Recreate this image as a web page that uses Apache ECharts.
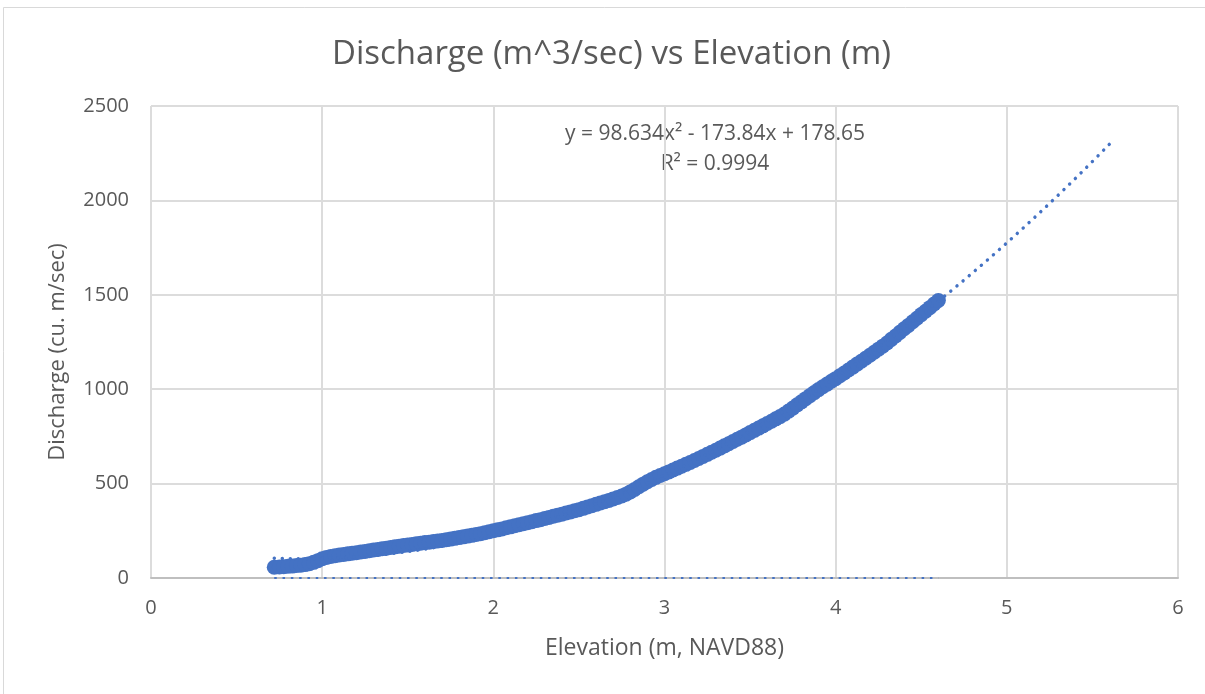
<!DOCTYPE html>
<html>
<head>
<meta charset="utf-8">
<title>Discharge vs Elevation</title>
<script src="https://cdn.jsdelivr.net/npm/echarts@6/dist/echarts.min.js"></script>
<style>
  html, body { margin: 0; padding: 0; background: #ffffff; }
  #chart { width: 1205px; height: 694px; }
</style>
</head>
<body>
<div id="chart"></div>
<script>
// Observed stage (m, NAVD88) and discharge (m^3/s) records
const elevation = [
  0.720, 0.750, 0.775, 0.800, 0.825, 0.850, 0.875, 0.900, 0.925, 0.950, 0.975,
  1.000, 1.025, 1.050, 1.075, 1.100, 1.125, 1.150, 1.175, 1.200, 1.225, 1.250, 1.275,
  1.300, 1.325, 1.350, 1.375, 1.400, 1.425, 1.450, 1.475, 1.500, 1.525, 1.550, 1.575,
  1.600, 1.625, 1.650, 1.675, 1.700, 1.725, 1.750, 1.775, 1.800, 1.825, 1.850, 1.875,
  1.900, 1.925, 1.950, 1.975, 2.000, 2.025, 2.050, 2.075, 2.100, 2.125, 2.150, 2.175,
  2.200, 2.225, 2.250, 2.275, 2.300, 2.325, 2.350, 2.375, 2.400, 2.425, 2.450, 2.475,
  2.500, 2.525, 2.550, 2.575, 2.600, 2.625, 2.650, 2.675, 2.700, 2.725, 2.750, 2.775,
  2.800, 2.825, 2.850, 2.875, 2.900, 2.925, 2.950, 2.975, 3.000, 3.025, 3.050, 3.075,
  3.100, 3.125, 3.150, 3.175, 3.200, 3.225, 3.250, 3.275, 3.300, 3.325, 3.350, 3.375,
  3.400, 3.425, 3.450, 3.475, 3.500, 3.525, 3.550, 3.575, 3.600, 3.625, 3.650, 3.675,
  3.700, 3.725, 3.750, 3.775, 3.800, 3.825, 3.850, 3.875, 3.900, 3.925, 3.950, 3.975,
  4.000, 4.025, 4.050, 4.075, 4.100, 4.125, 4.150, 4.175, 4.200, 4.225, 4.250, 4.275,
  4.300, 4.325, 4.350, 4.375, 4.400, 4.425, 4.450, 4.475, 4.500, 4.525, 4.550, 4.575,
  4.600
];
const discharge = [
  57, 58, 60, 62, 63, 66, 68, 71, 76, 83, 92,
  102, 109, 114, 118, 122, 125, 128, 131, 134, 138, 141, 144,
  148, 151, 155, 158, 162, 165, 168, 172, 175, 178, 181, 184,
  188, 190, 193, 196, 199, 203, 206, 210, 214, 218, 222, 226,
  231, 235, 240, 245, 250, 255, 260, 266, 271, 277, 282, 287,
  293, 298, 304, 309, 315, 321, 327, 332, 338, 344, 350, 356,
  362, 369, 376, 383, 390, 397, 404, 411, 419, 426, 434, 444,
  456, 469, 483, 497, 510, 522, 533, 543, 552, 562, 572, 582,
  592, 602, 612, 622, 633, 644, 655, 666, 677, 688, 700, 711,
  723, 735, 746, 758, 770, 782, 794, 806, 818, 830, 843, 855,
  868, 884, 900, 917, 933, 950, 966, 982, 998, 1013, 1027, 1042,
  1056, 1071, 1086, 1102, 1117, 1133, 1148, 1164, 1180, 1196, 1212, 1228,
  1245, 1264, 1282, 1301, 1320, 1338, 1357, 1376, 1395, 1413, 1432, 1451,
  1470
];

// Polynomial trendline (order 2): y = a x^2 + b x + c, forecast forward one unit
const trendCoef = [98.634, -173.84, 178.65];
const trendRange = [0.72, 5.6];
const trendLabel = ['y = 98.634x\u00B2 - 173.84x + 178.65', 'R\u00B2 = 0.9994'];

// Flat trend of the companion zero series
const zeroTrendX = [0.72, 4.6];
const zeroTrendY = [0, 0];

// Axis ticks
const xTicks = [0, 1, 2, 3, 4, 5, 6];
const yTicks = [0, 500, 1000, 1500, 2000, 2500];

const points = elevation.map((x, i) => [x, discharge[i]]);

const trendPoints = [];
for (let x = trendRange[0]; x <= trendRange[1] + 1e-9; x += 0.02) {
  trendPoints.push([x, trendCoef[0] * x * x + trendCoef[1] * x + trendCoef[2]]);
}

const zeroPoints = zeroTrendX.map((x, i) => [x, zeroTrendY[i]]);

const FONT = '"Open Sans", "Liberation Sans", sans-serif';
const TEXT = '#595959';
const BLUE = '#4472C4';

const chart = echarts.init(document.getElementById('chart'), null, { renderer: 'canvas' });

chart.setOption({
  backgroundColor: '#ffffff',
  animation: false,
  title: {
    text: 'Discharge (m^3/sec) vs Elevation (m)',
    left: 327,
    top: 33,
    textStyle: { fontFamily: FONT, fontSize: 33, fontWeight: 'normal', color: TEXT }
  },
  grid: { left: 151, right: 27, top: 106, bottom: 116 },
  xAxis: {
    type: 'value',
    min: xTicks[0],
    max: xTicks[xTicks.length - 1],
    interval: 1,
    name: 'Elevation (m, NAVD88)',
    nameLocation: 'middle',
    nameGap: 59,
    nameTextStyle: { fontFamily: FONT, fontSize: 23, color: TEXT },
    axisLine: { show: true, lineStyle: { color: '#BFBFBF', width: 2 } },
    axisTick: { show: false },
    axisLabel: { fontFamily: FONT, fontSize: 20, color: TEXT, margin: 20 },
    splitLine: { show: true, lineStyle: { color: '#DCDCDC', width: 2 } }
  },
  yAxis: {
    type: 'value',
    min: yTicks[0],
    max: yTicks[yTicks.length - 1],
    interval: 500,
    name: 'Discharge (cu. m/sec)',
    nameLocation: 'middle',
    nameGap: 82,
    nameRotate: 90,
    nameTextStyle: { fontFamily: FONT, fontSize: 22, color: TEXT, padding: [0, 20, 0, 0] },
    axisLine: { show: false },
    axisTick: { show: false },
    axisLabel: {
      fontFamily: FONT, fontSize: 20, color: TEXT, margin: 22,
      formatter: (v) => String(v)
    },
    splitLine: { show: true, lineStyle: { color: '#DCDCDC', width: 2 } }
  },
  series: [
    {
      name: 'Discharge',
      type: 'scatter',
      data: points,
      symbol: 'circle',
      symbolSize: 15,
      itemStyle: { color: BLUE, opacity: 1, borderWidth: 0 },
      emphasis: { disabled: true },
      z: 3
    },
    {
      name: 'Poly. (Discharge)',
      type: 'line',
      data: trendPoints,
      showSymbol: false,
      smooth: false,
      lineStyle: { color: BLUE, width: 3.4, type: [0.1, 7.9], cap: 'round' },
      z: 4
    },
    {
      name: 'Linear (Zero)',
      type: 'line',
      data: zeroPoints,
      showSymbol: false,
      lineStyle: { color: BLUE, width: 2, type: [2.5, 5.8], cap: 'butt' },
      z: 5
    }
  ],
  graphic: [
    {
      type: 'rect',
      shape: { x: 3.5, y: 7.5, width: 1400, height: 900 },
      style: { fill: 'none', stroke: '#D9D9D9', lineWidth: 1 },
      silent: true,
      z: 0
    },
    {
      type: 'text',
      x: 715,
      y: 134,
      style: {
        text: trendLabel[0],
        fontFamily: FONT, fontSize: 21, fill: TEXT,
        align: 'center', verticalAlign: 'middle'
      }
    },
    {
      type: 'text',
      x: 715,
      y: 164,
      style: {
        text: trendLabel[1],
        fontFamily: FONT, fontSize: 21, fill: TEXT,
        align: 'center', verticalAlign: 'middle'
      }
    }
  ]
});
</script>
</body>
</html>
